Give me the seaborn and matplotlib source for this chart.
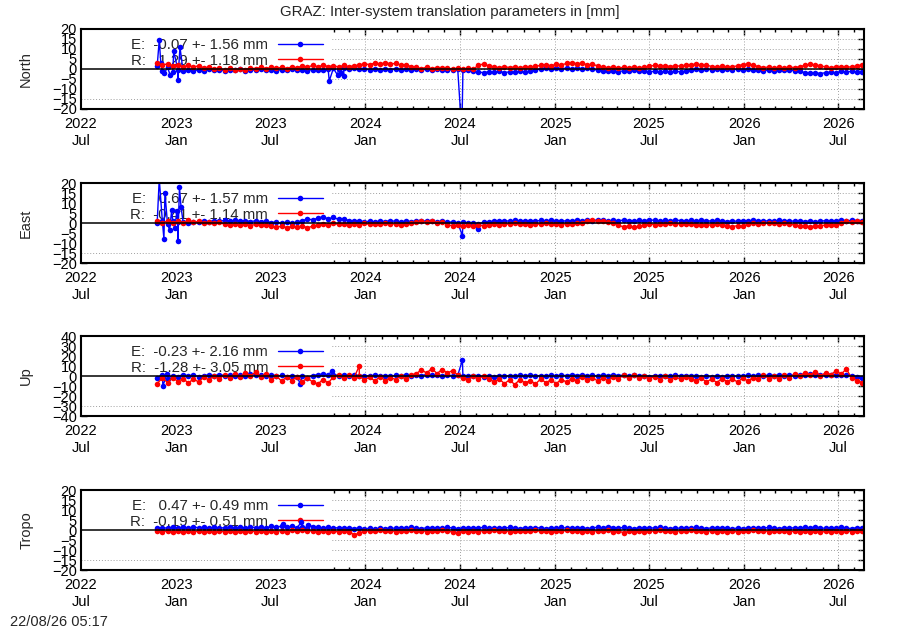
import pandas as pd
import matplotlib
matplotlib.use("Agg")
import matplotlib.pyplot as plt
import matplotlib.dates as mdates
from matplotlib.patches import Rectangle
import seaborn as sns

# daily solutions, thinned to one value every 10 days starting here
start_date = "2022-11-25"

north_e = [1.5, -1.0, 0.8, -1.5, -0.6, -1.2, -0.3, -0.9, -0.4, -0.8, -0.2, -0.7,
           -0.3, -0.9, -0.4, -0.6, -0.1, -0.8, -0.3, -0.7, -0.2, -0.6, -0.4, -0.9,
           -0.3, -0.7, -0.2, -0.6, -0.4, -0.8, -0.3, -0.6, -0.5, -0.2, 0.3, -0.1,
           0.4, 0.0, 0.3, -0.2, 0.1, -0.4, 0.0, -0.5, -0.2, -0.4, 0.1, -0.3,
           -0.2, -0.5, 0.0, -0.4, -0.1, -0.5, -0.2, -0.6, -0.3, -0.5, -0.2, -0.6,
           -0.4, -0.8, -1.4, -1.9, -1.3, -1.7, -1.2, -1.8, -1.4, -1.6, -1.1, -1.5,
           -1.0, -0.6, 0.2, 0.5, 0.1, 0.6, 0.2, 0.4, 0.0, 0.5, 0.1, 0.3,
           -0.2, -0.5, -0.9, -1.2, -0.8, -1.3, -0.9, -1.1, -0.7, -1.2, -1.0, -1.4,
           -1.1, -1.6, -1.2, -1.5, -1.1, -1.4, -1.0, -0.5, -0.2, -0.6, -0.1, -0.4,
           0.0, -0.5, -0.2, -0.4, 0.1, -0.3, 0.0, -0.4, -0.6, -0.9, -0.5, -0.8,
           -0.4, -0.7, -0.5, -0.9, -1.2, -1.8, -2.2, -1.9, -2.3, -1.8, -1.5, -1.9,
           -1.2, -1.6, -1.1, -1.5, -1.3]
north_r = [2.8, 2.0, 2.6, 1.6, 2.2, 1.2, 1.8, 1.0, 1.6, 0.6, 0.9, -0.2,
           0.4, -0.5, 0.3, -0.6, 0.2, -0.3, 0.6, 0.1, 0.9, 0.2, 0.8, 0.3,
           0.9, 0.2, 1.1, 0.5, 1.6, 0.9, 1.8, 1.1, 1.9, 1.2, 1.7, 1.0,
           1.8, 1.2, 1.6, 2.0, 2.6, 2.2, 3.0, 2.4, 3.2, 2.5, 2.8, 2.0,
           2.2, 1.2, 0.8, 0.2, 0.9, 0.1, 0.7, 0.3, 0.6, -0.1, 0.4, -0.2,
           0.3, 0.0, 1.8, 2.6, 1.5, 1.1, 0.6, 1.2, 0.7, 1.0, 0.5, 1.1,
           0.8, 1.3, 1.8, 2.2, 1.6, 2.4, 2.0, 2.8, 3.2, 2.6, 2.9, 2.1,
           2.3, 1.6, 1.0, 0.6, 1.0, 0.4, 0.9, 0.5, 1.0, 0.6, 0.9, 1.4,
           1.8, 1.3, 1.7, 1.2, 1.6, 1.4, 1.9, 2.1, 2.5, 1.8, 2.0, 1.2,
           0.8, 1.3, 0.9, 1.1, 1.6, 2.2, 2.6, 1.9, 1.2, 0.7, 1.0, 0.5,
           0.9, 0.6, 1.0, 0.7, 1.2, 1.8, 2.4, 2.0, 1.6, 1.0, 0.6, 1.1,
           0.8, 1.2, 0.9, 1.6, 2.0]
north_e_spikes = [("2022-11-29", 14.5), ("2022-12-02", 3.0), ("2022-12-09", -2.0),
                  ("2022-12-20", -3.0), ("2022-12-27", 9.0), ("2023-01-04", -5.5),
                  ("2023-01-08", 11.0), ("2023-10-23", -6.0), ("2023-11-08", -3.0),
                  ("2023-11-14", -2.0), ("2023-11-20", -3.5), ("2024-07-05", -32.0)]
north_r_spikes = []

east_e = [0.2, 1.0, -0.5, 0.8, 0.3, 0.6, 0.1, 0.7, 0.4, 0.9, 0.6, 1.2,
          0.8, 1.3, 0.9, 1.4, 1.0, 1.2, 0.7, 1.1, 0.6, 0.9, 0.2, 0.5,
          -0.1, 0.3, 0.0, 0.4, 1.2, 2.0, 1.6, 2.4, 3.2, 2.0, 2.8, 1.8,
          2.2, 1.2, 0.8, 1.1, 0.6, 0.9, 0.5, 1.0, 0.7, 1.2, 0.8, 0.6,
          1.0, 0.7, 1.1, 0.8, 1.2, 0.9, 0.6, 1.0, 0.3, 0.6, 0.1, 0.4,
          0.0, 0.2, -0.4, 0.3, 0.6, 1.0, 0.8, 1.2, 0.9, 1.3, 1.0, 0.8,
          1.2, 0.9, 1.3, 1.0, 1.4, 1.1, 0.8, 1.2, 1.0, 1.4, 1.1, 1.5,
          1.2, 1.6, 1.3, 1.0, 1.4, 1.1, 1.5, 1.2, 0.9, 1.3, 1.1, 1.6,
          1.3, 1.0, 1.4, 1.1, 1.5, 1.2, 0.9, 1.3, 1.0, 1.4, 1.2, 0.9,
          1.3, 1.0, 0.7, 1.1, 0.8, 1.2, 1.0, 1.4, 1.1, 0.8, 1.2, 0.9,
          1.3, 1.0, 1.2, 0.8, 1.1, 0.7, 1.0, 0.6, 0.9, 1.2, 0.8, 1.1,
          1.3, 1.0, 1.4, 1.1, 1.2]
east_r = [0.8, -0.2, 1.2, 0.2, 1.0, -0.1, 1.3, 0.3, 0.9, -0.2, 0.7, 0.0,
          0.4, -0.6, -1.2, -0.4, -1.0, -0.5, -1.3, -0.7, -1.1, -0.8, -1.6, -2.2,
          -1.5, -2.3, -1.7, -2.1, -1.4, -2.4, -1.6, -0.9, -0.3, -0.8, -0.2, -0.7,
          -0.3, -0.9, -0.4, -0.8, -0.2, -0.7, -0.3, -0.6, -0.1, -0.7, -0.3, -0.8,
          -0.4, -0.2, 0.4, 0.9, 0.3, 0.8, 0.2, 0.5, -0.8, -1.4, -1.0, -1.6,
          -1.1, -1.5, -1.0, -1.4, -0.9, -0.4, -0.8, -0.3, -0.7, -0.2, -0.6, -0.4,
          -0.8, -0.3, -0.7, -0.2, -0.6, -0.4, -0.8, -0.3, -0.5, -0.2, 0.2, 0.9,
          1.4, 0.8, 1.2, 0.6, 0.2, -1.2, -1.9, -1.5, -2.2, -1.7, -1.2, -0.5,
          -0.8, -0.3, -0.7, -0.2, -0.6, -0.3, -0.7, -0.5, -0.9, -1.2, -0.8, -1.1,
          -0.7, -1.0, -1.4, -1.8, -1.3, -1.6, -0.6, 0.1, -0.3, 0.2, -0.2, 0.1,
          -0.3, 0.0, -0.4, -1.1, -1.6, -1.3, -1.8, -1.4, -1.5, -0.9, -1.2, -0.8,
          0.2, 0.8, 0.4, 1.0, 0.6]
east_e_spikes = [("2022-11-29", 22.0), ("2022-12-08", -8.0), ("2022-12-10", 15.0),
                 ("2022-12-19", -3.5), ("2022-12-23", 6.5), ("2022-12-29", -2.5),
                 ("2023-01-02", 6.0), ("2023-01-04", -9.0), ("2023-01-07", 18.0),
                 ("2023-01-10", 8.0), ("2024-07-06", -6.3), ("2024-08-05", -3.0)]
east_r_spikes = []

up_e = [-1.5, 1.0, -2.5, 0.5, -0.5, 1.5, 0.0, 1.0, -0.5, 0.5, 1.0, 0.0,
        1.5, 0.5, 1.2, -0.2, 1.0, 0.3, 1.6, 0.6, 1.2, 0.2, 0.8, -0.3,
        0.6, -0.5, 0.2, -1.0, -0.4, -2.0, 0.5, 1.2, 2.0, 0.8, 1.5, 0.5,
        1.0, 0.2, 0.8, -0.2, 0.5, 0.0, 0.7, -0.4, 0.3, -0.2, 0.6, 0.1,
        0.8, 0.2, 1.2, 0.5, 1.5, 0.8, 1.2, 0.3, 1.0, 0.2, 0.6, 0.0,
        0.4, -0.3, 0.2, -0.5, 0.0, -0.8, 0.3, -0.4, 0.5, -0.2, 0.6, 0.0,
        0.8, 0.1, 0.5, -0.3, 0.6, 0.0, 0.9, 0.3, 1.2, 0.5, 1.0, 0.2,
        0.7, 0.0, 0.9, 0.3, 1.1, 0.4, 0.8, 0.1, 0.6, -0.2, 0.4, -0.5,
        0.3, -0.4, 0.5, -0.1, 0.7, 0.2, 0.5, -0.3, 0.2, -0.6, 0.0, -0.8,
        -0.2, -0.7, 0.1, -0.4, 0.3, -0.2, 0.6, 0.1, 0.8, 0.3, 1.0, 0.4,
        0.9, 0.2, 1.1, 0.5, 1.3, 0.7, 1.6, 0.9, 1.4, 0.6, 1.2, 0.8,
        1.5, 0.9, 0.4, -0.5, -1.5]
up_r = [-7.5, -2.0, -6.5, -1.5, -5.5, -2.5, -7.0, -3.0, -6.0, -1.0, -4.0, 0.5,
        -3.0, 1.5, -2.0, 2.5, -1.0, 3.5, 0.0, 4.0, -0.5, 2.5, -4.0, 0.0,
        -5.0, -1.0, -4.5, -0.5, -5.5, -2.0, -6.0, -8.0, -3.5, -7.0, -1.0, 1.5,
        -2.0, 1.0, -1.5, 0.5, -4.0, -1.0, -5.0, -0.5, -4.5, -1.5, -3.5, 0.0,
        -3.0, 1.0, 2.5, 6.0, 3.0, 7.5, 2.5, 6.5, 3.0, 5.5, 1.0, -1.5,
        -3.5, 0.0, -3.0, 0.5, -2.5, -6.0, -3.0, -7.5, -4.0, -8.5, -3.5, -7.0,
        -4.5, -8.0, -3.0, -6.5, -4.0, -7.5, -3.5, -6.0, -2.5, -4.5, -1.0, -4.0,
        -1.5, -5.0, -2.0, -4.5, -1.0, -3.0, 1.0, -2.0, 1.5, -1.5, 0.5, -2.5,
        -0.5, -3.5, 0.0, -4.0, -1.0, -3.0, -0.5, -2.5, -4.5, -2.0, -6.0, -3.0,
        -6.5, -2.5, -5.5, -3.0, -6.0, -2.0, -5.0, -1.5, -3.0, 1.0, -2.5, 0.5,
        -3.0, 1.5, -1.5, 2.0, 0.0, 3.5, 1.0, 4.5, 0.5, 3.0, 1.5, 5.0,
        2.0, 7.0, -2.0, -4.5, -6.5]
up_e_spikes = [("2022-12-06", -10.0), ("2022-12-14", 2.5), ("2023-08-28", -7.5),
               ("2023-10-28", 5.0), ("2024-07-06", 16.0)]
up_r_spikes = [("2023-12-20", 10.0)]

tropo_e = [0.8, 1.2, 0.9, 1.4, 1.0, 1.3, 0.9, 1.5, 1.1, 1.4, 1.0, 1.3,
           0.9, 1.2, 1.5, 1.1, 1.4, 1.0, 1.6, 1.2, 1.5, 1.1, 1.8, 1.3,
           2.0, 1.4, 1.8, 1.2, 1.6, 1.1, 1.7, 1.3, 1.0, 1.4, 0.9, 1.2,
           0.8, 1.1, 0.7, 1.0, 0.6, 0.9, 0.5, 1.0, 0.7, 1.1, 0.8, 1.2,
           0.9, 1.3, 1.0, 0.7, 1.1, 0.8, 1.2, 0.9, 1.3, 1.0, 0.7, 1.1,
           0.8, 1.2, 0.9, 1.4, 1.0, 0.8, 1.2, 0.9, 1.3, 1.0, 0.7, 1.1,
           0.8, 1.2, 1.0, 0.7, 1.1, 0.8, 1.3, 0.9, 1.2, 0.8, 1.1, 0.7,
           1.0, 1.4, 1.0, 1.7, 1.2, 0.9, 1.3, 1.0, 0.7, 1.1, 0.8, 1.2,
           0.9, 1.3, 1.0, 0.7, 1.1, 0.8, 1.2, 0.9, 1.4, 1.0, 0.7, 1.1,
           0.8, 1.2, 0.9, 0.6, 1.0, 0.7, 1.1, 0.8, 1.2, 0.9, 1.3, 1.0,
           0.7, 1.1, 0.8, 1.2, 0.9, 1.3, 1.0, 1.6, 1.1, 0.8, 1.2, 0.9,
           1.3, 1.0, 0.7, 1.2, 0.9]
tropo_r = [-0.3, -0.9, -0.4, -1.0, -0.5, -1.1, -0.6, -1.0, -0.4, -0.9, -0.5, -1.2,
           -0.6, -0.9, -0.4, -1.0, -0.5, -0.8, -0.3, -0.9, -0.5, -1.1, -0.4, -0.8,
           -0.3, -0.9, -0.2, -0.7, 0.2, -0.6, -0.3, -0.8, -0.4, -0.9, -0.5, -1.0,
           -0.4, -0.8, -2.4, -1.6, -0.6, -0.3, -0.7, -0.2, -0.6, -0.3, -0.8, -0.4,
           -0.7, -0.2, -0.6, -0.3, -0.8, -0.4, -0.7, -0.2, -0.5, -1.0, -1.5, -0.6,
           -0.9, -0.4, -0.8, -0.3, -0.7, -0.2, -0.6, -0.3, -0.8, -0.4, -0.7, -0.3,
           -0.6, -0.2, -0.7, -0.4, -0.8, -0.3, -0.6, -0.2, -0.7, -0.4, -0.9, -0.5,
           -0.8, -0.3, -0.7, -0.2, -1.0, -0.6, -1.3, -0.7, -1.1, -0.5, -0.8, -0.3,
           -0.7, -0.2, -0.6, -0.3, -0.8, -0.4, -0.7, -0.2, -0.6, -0.3, -0.8, -0.4,
           -0.9, -0.5, -1.2, -0.6, -1.0, -0.4, -0.7, -0.2, -0.6, -0.3, -0.8, -0.4,
           -0.7, -0.3, -0.9, -0.5, -1.1, -0.6, -0.9, -0.4, -1.2, -0.6, -1.0, -0.5,
           -0.8, -0.3, -0.9, -0.4, -0.6]
tropo_e_spikes = [("2023-07-26", 2.8), ("2023-08-30", 3.8), ("2023-09-12", 2.6)]
tropo_r_spikes = []

panel_names = ["North", "East", "Up", "Tropo"]
panel_limits = [20, 20, 40, 20]
panel_steps = [5, 5, 10, 5]
labels_e = ["E:  -0.07 +- 1.56 mm", "E:   0.67 +- 1.57 mm",
            "E:  -0.23 +- 2.16 mm", "E:   0.47 +- 0.49 mm"]
labels_r = ["R:   1.29 +- 1.18 mm", "R:  -0.41 +- 1.14 mm",
            "R:  -1.28 +- 3.05 mm", "R:  -0.19 +- 0.51 mm"]

title = "GRAZ: Inter-system translation parameters in [mm]"
stamp = "22/08/26 05:17"
x_start, x_end = "2022-07-01", "2026-08-20"


def make_series(values, spikes):
    df = pd.DataFrame({"date": pd.date_range(start_date, periods=len(values), freq="10D"),
                       "value": values})
    if spikes:
        extra = pd.DataFrame(spikes, columns=["date", "value"])
        extra["date"] = pd.to_datetime(extra["date"])
        df = pd.concat([df, extra], ignore_index=True)
    return df.sort_values("date").reset_index(drop=True)


series_e = [make_series(north_e, north_e_spikes), make_series(east_e, east_e_spikes),
            make_series(up_e, up_e_spikes), make_series(tropo_e, tropo_e_spikes)]
series_r = [make_series(north_r, north_r_spikes), make_series(east_r, east_r_spikes),
            make_series(up_r, up_r_spikes), make_series(tropo_r, tropo_r_spikes)]

sns.set_style("ticks")
plt.rcParams["font.family"] = ["Liberation Sans", "DejaVu Sans"]
plt.rcParams["font.size"] = 10.5

fig = plt.figure(figsize=(9, 6.3), dpi=100)
tops = [29, 183, 336, 490]
grid_kw = dict(color="#a0a0a0", lw=0.7, ls=(0, (1, 2)))

for i, name in enumerate(panel_names):
    ax = fig.add_axes([81 / 900, 1 - (tops[i] + 80) / 630, 783 / 900, 80 / 630])
    lim, step = panel_limits[i], panel_steps[i]
    yt = list(range(-lim, lim + 1, step))

    # gnuplot-like grid, hidden under the opaque key box
    for v in yt[1:-1]:
        ax.axhline(v, zorder=1.2 if v == yt[1] else 0.8, **grid_kw)
    for d in pd.date_range("2023-01-01", "2026-07-01", freq="6MS"):
        ax.axvline(d, zorder=0.8, **grid_kw)
    ax.add_patch(Rectangle((0, 0), 0.32, 1, transform=ax.transAxes,
                           facecolor="white", edgecolor="none", zorder=1))

    sns.lineplot(data=series_e[i], x="date", y="value", color="#0000ff", lw=1.0,
                 marker="o", markersize=4, markeredgewidth=0, estimator=None,
                 sort=False, ax=ax, zorder=2)
    line_e = ax.lines[-1]
    sns.lineplot(data=series_r[i], x="date", y="value", color="#ff0000", lw=1.0,
                 marker="o", markersize=4, markeredgewidth=0, estimator=None,
                 sort=False, ax=ax, zorder=2.2)
    line_r = ax.lines[-1]
    ax.axhline(0, color="black", lw=1.1, zorder=3)

    leg = ax.legend([line_e, line_r], [labels_e[i], labels_r[i]], loc="upper right",
                    bbox_to_anchor=(0.309, 0.89), frameon=False, markerfirst=False,
                    numpoints=1, handlelength=3.0, handletextpad=0.65,
                    labelspacing=0.12, borderpad=0, borderaxespad=0, fontsize=10.8)
    leg.set_zorder(1.5)

    ax.set_ylim(-lim, lim)
    ax.set_yticks(yt)
    ax.set_xlim(pd.Timestamp(x_start), pd.Timestamp(x_end))
    ax.xaxis.set_major_locator(mdates.MonthLocator(bymonth=[1, 7]))
    ax.xaxis.set_minor_locator(mdates.MonthLocator())
    ax.xaxis.set_major_formatter(mdates.DateFormatter("%Y\n%b"))
    ax.tick_params(which="both", direction="in", top=True, right=True, width=1,
                   colors="black", labelsize=10.5)
    ax.tick_params(which="major", length=4.5)
    ax.tick_params(which="minor", length=2.2)
    ax.tick_params(axis="x", pad=6)
    ax.tick_params(axis="y", pad=3)
    for sp in ax.spines.values():
        sp.set_linewidth(1.5)
        sp.set_color("black")
        sp.set_zorder(4)
    ax.set_xlabel("")
    ax.set_ylabel(name, fontsize=10.5)
    ax.yaxis.set_label_coords(-0.061, 0.5)

fig.text(0.5, 1 - 12 / 630, title, ha="center", va="center", fontsize=10.8)
fig.text(10 / 900, 1 - 622 / 630, stamp, ha="left", va="center", fontsize=10.5)

fig.savefig("out.png", dpi=100)
